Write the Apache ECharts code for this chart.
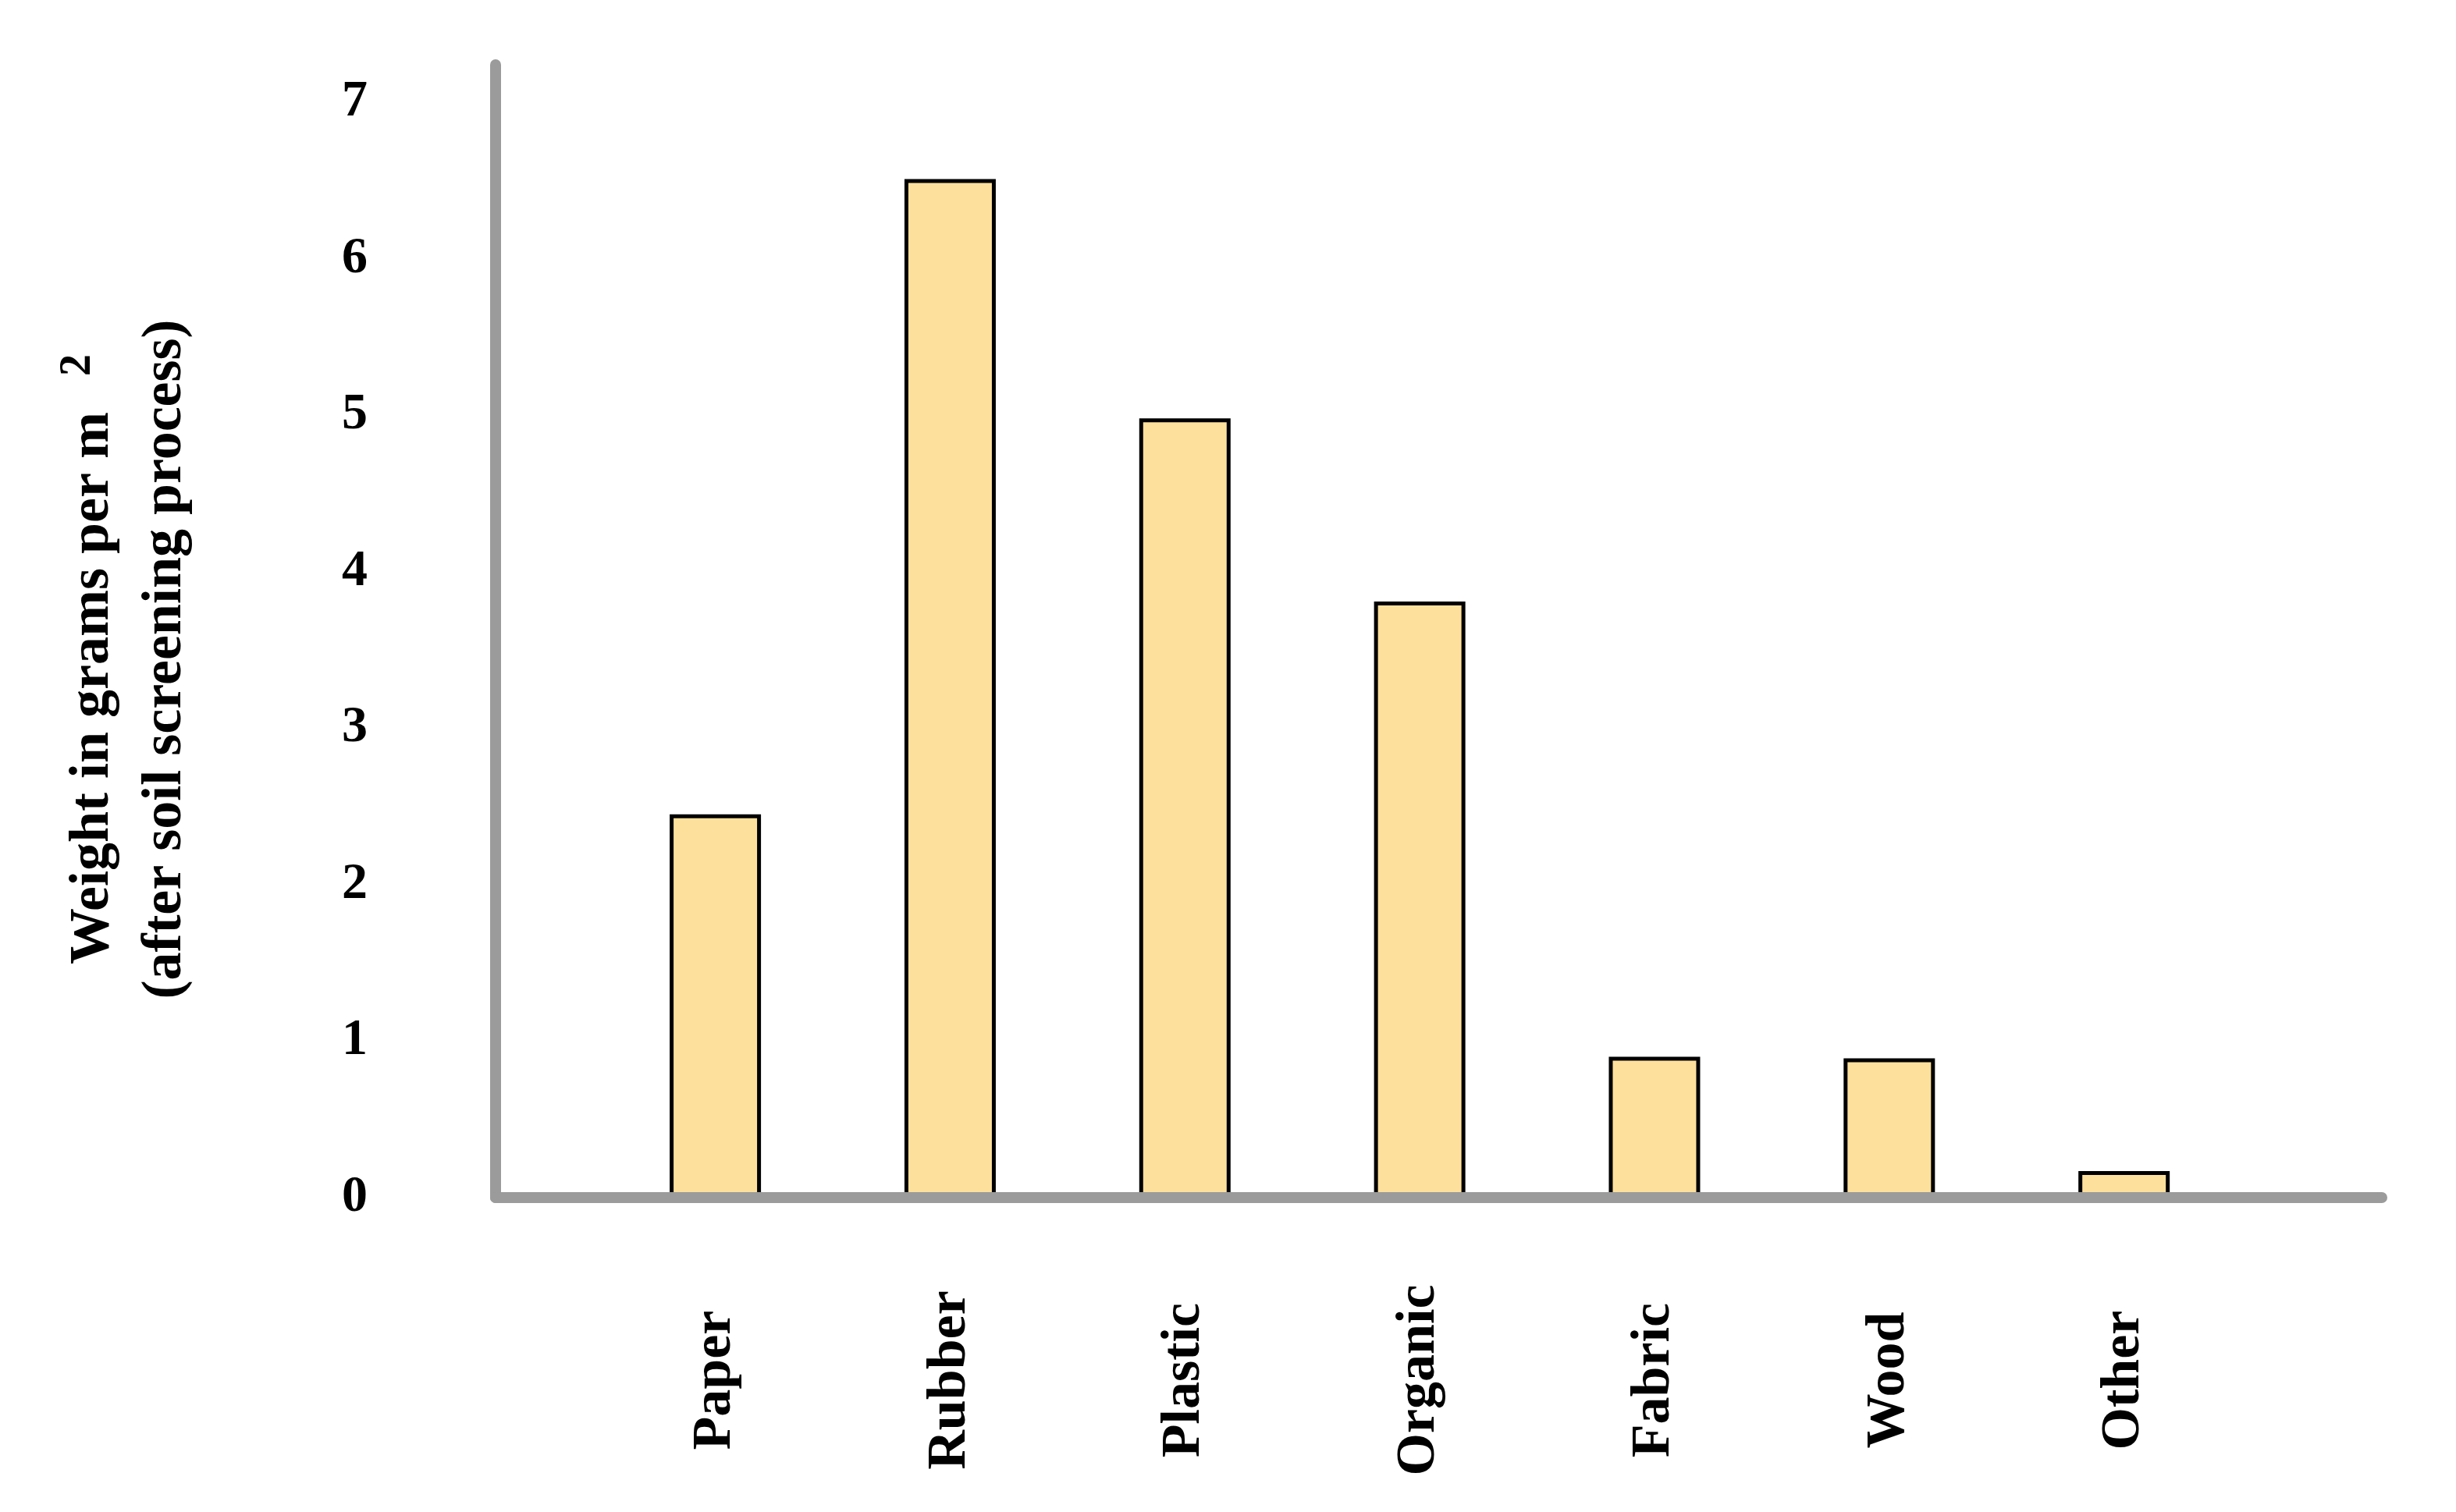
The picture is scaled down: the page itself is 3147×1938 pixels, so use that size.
<!DOCTYPE html>
<html>
<head>
<meta charset="utf-8">
<title>Weight in grams per m2</title>
<script src="https://cdn.jsdelivr.net/npm/echarts@6.0.0/dist/echarts.min.js"></script>
<style>
  html, body { margin: 0; padding: 0; background: #fff; }
  #main { width: 3147px; height: 1938px; }
</style>
</head>
<body>
<div id="main"></div>
<script>
// categories on the x axis
const categories = ['Paper', 'Rubber', 'Plastic', 'Organic', 'Fabric', 'Wood', 'Other']
// weight in grams per m2 (after soil screening process)
const weights = [2.45, 6.51, 4.98, 3.81, 0.90, 0.89, 0.17]
// y tick labels
const yTicks = [0, 1, 2, 3, 4, 5, 6, 7]

const font = 'Liberation Serif'
const chart = echarts.init(document.getElementById('main'))

const option = {
  backgroundColor: '#fff',
  animation: false,
  grid: { left: 635, right: 95, top: 83, bottom: 403 },
  // value axis so the uneven gap before Paper and after Other is kept
  xAxis: {
    type: 'value',
    min: -0.936,
    max: 7.098,
    z: 3,
    axisLine: { show: true, onZero: false, lineStyle: { color: '#9b9b9b', width: 14 } },
    axisTick: { show: false },
    splitLine: { show: false },
    axisLabel: {
      customValues: categories.map((c, i) => i),
      formatter: v => Number.isInteger(v) ? (categories[v] || '') : '',
      rotate: 90,
      align: 'center',
      verticalAlign: 'middle',
      margin: 234,
      fontFamily: font,
      fontWeight: 'bold',
      fontSize: 70,
      color: '#000'
    }
  },
  yAxis: {
    type: 'value',
    min: 0,
    max: 7.24,
    interval: 1,
    z: 3,
    name: '{t|Weight in grams per m  }{s|2}\n{t|(after soil screening process)}',
    nameLocation: 'middle',
    nameRotate: 90,
    nameGap: 376,
    nameTextStyle: {
      color: '#000',
      fontFamily: font,
      fontWeight: 'bold',
      fontSize: 72,
      lineHeight: 93,
      padding: [0, 72, 0, 0],
      rich: {
        t: { fontFamily: font, fontWeight: 'bold', fontSize: 72, lineHeight: 93, color: '#000' },
        s: { fontFamily: font, fontWeight: 'bold', fontSize: 56, lineHeight: 88, verticalAlign: 'top', color: '#000', padding: [0, 0, 0, 10] }
      }
    },
    axisLine: { show: true, onZero: false, lineStyle: { color: '#9b9b9b', width: 14 } },
    axisTick: { show: false },
    splitLine: { show: false },
    axisLabel: {
      formatter: v => yTicks.includes(v) ? String(v) : '',
      margin: 164,
      fontFamily: font,
      fontWeight: 'bold',
      fontSize: 66,
      color: '#000'
    }
  },
  series: [
    {
      type: 'bar',
      data: weights.map((w, i) => [i, w]),
      barWidth: 117,
      itemStyle: { color: '#fee09d', borderColor: '#000', borderWidth: 5 }
    }
  ]
}

chart.setOption(option)
</script>
</body>
</html>
